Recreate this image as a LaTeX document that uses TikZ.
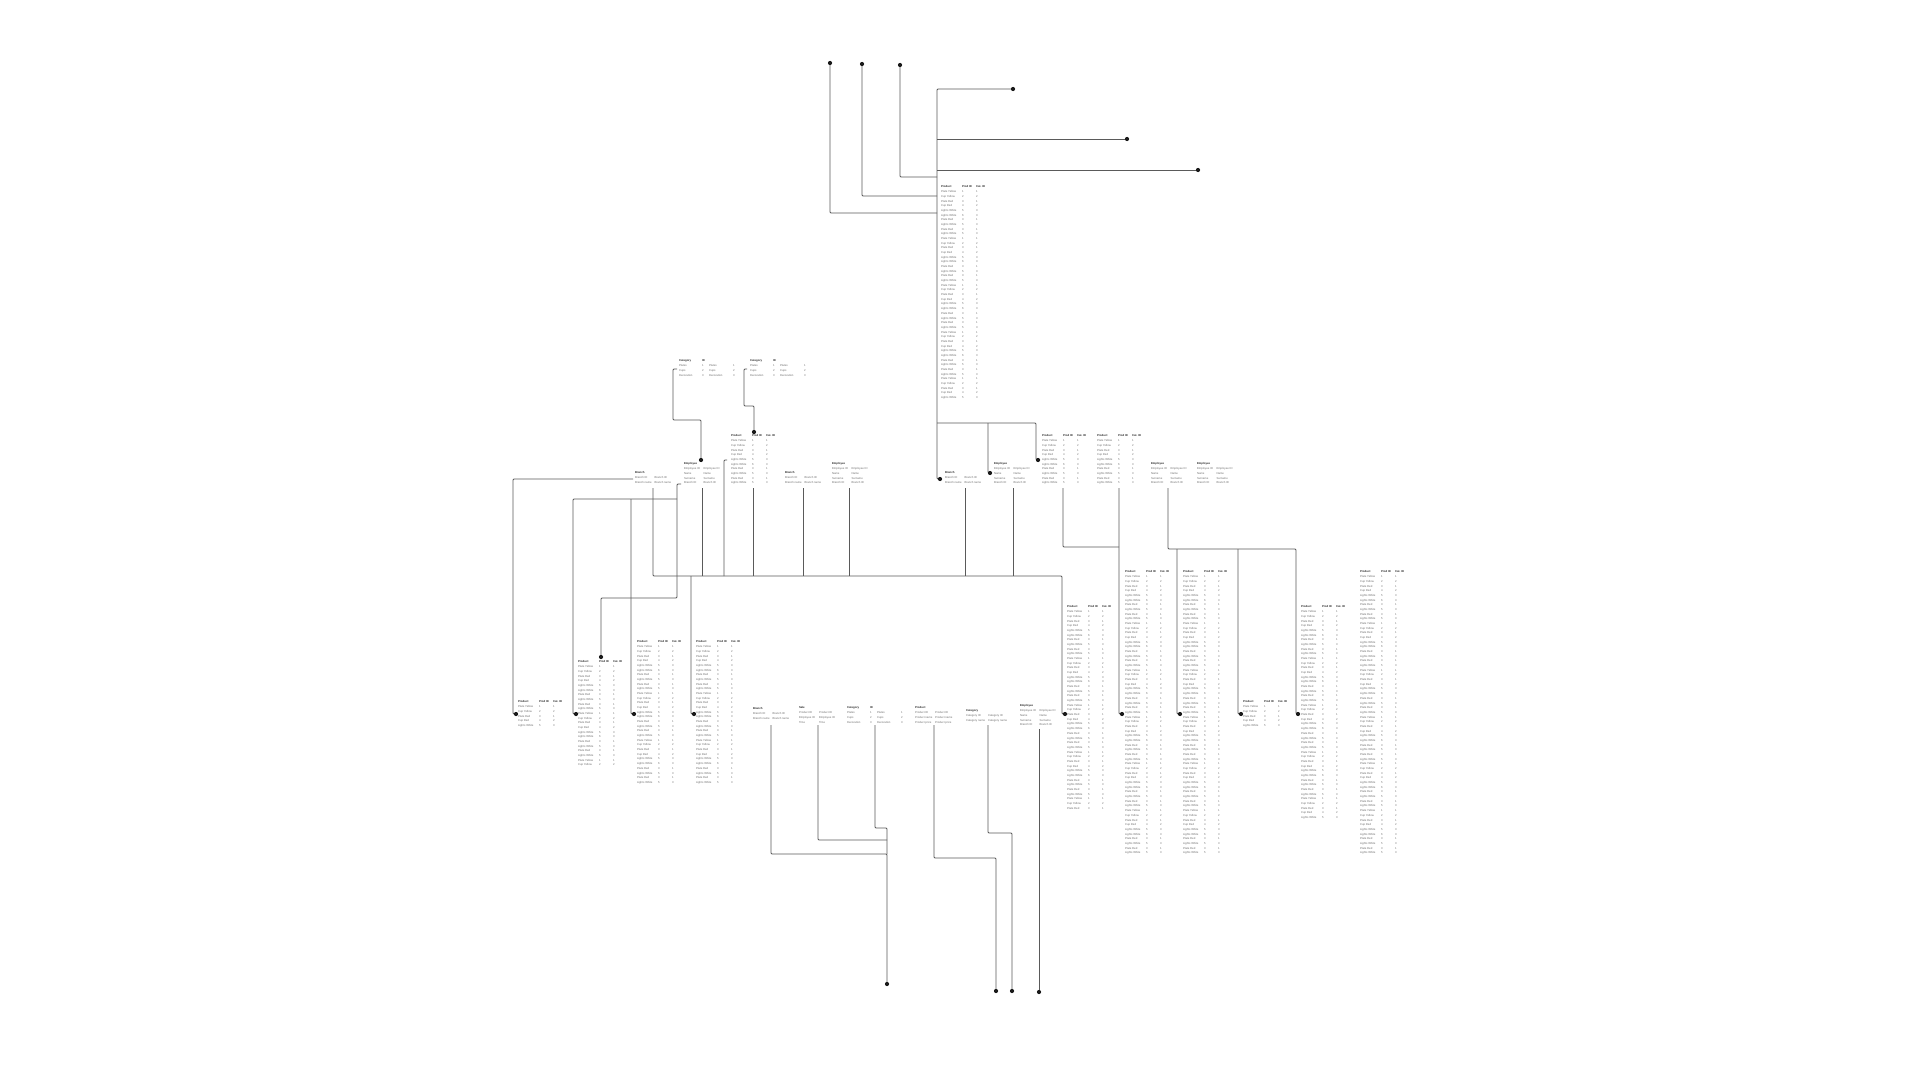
\documentclass[tikz,border=0pt]{standalone}
\usepackage{fontspec}
\setmainfont{Liberation Sans}
\usepackage{array}
\definecolor{linec}{HTML}{5A5A5A}
\definecolor{headc}{HTML}{2A2A2A}
\definecolor{bodyc}{HTML}{707070}
\definecolor{dotc}{HTML}{1A1A1A}
\newcommand\tblfont{\fontsize{2.8}{4.68}\selectfont}
\newcommand\hd[1]{\textcolor{headc}{\textbf{#1}}}
\newcommand\pA{Plate Yellow&1&1\\}
\newcommand\pB{Cup Yellow&2&2\\}
\newcommand\pC{Plate Red&3&1\\}
\newcommand\pD{Cup Red&4&2\\}
\newcommand\pE{Lights White&5&3\\}
\newcommand\pF{Lights White&6&3\\}
\newcommand\rfive{\pA\pB\pC\pD\pE}
\newcommand\rten{\pA\pB\pC\pD\pE\pF\pC\pE\pC\pE}
\newcommand\prodhd{\hd{Product}&\hd{Prod ID}&\hd{Cat. ID}\\}
\tikzset{
 tbl/.style={anchor=north west, inner sep=0pt, outer sep=0pt, font=\tblfont, text=bodyc},
 conn/.style={draw=linec, line width=0.8pt, rounded corners=1pt},
 dot/.style={circle, fill=dotc, inner sep=0pt, minimum size=4.2pt},
}
\newcommand\ptable[4]{\node[tbl] (#1) at (#2,#3-2.3) {\begin{tabular}{@{}p{21pt}@{}p{14pt}@{}l@{}}\prodhd#4\end{tabular}};}
\newcommand\etable[3]{\node[tbl] (#1) at (#2,#3-2.3) {\begin{tabular}{@{}p{19.5pt}@{}l@{}}\hd{Employee}&\\Employee ID&Employee ID\\Name&Name\\Surname&Surname\\Branch ID&Branch ID\\\end{tabular}};}
\newcommand\btable[3]{\node[tbl] (#1) at (#2,#3-2.3) {\begin{tabular}{@{}p{19.5pt}@{}l@{}}\hd{Branch}&\\Branch ID&Branch ID\\Branch name&Branch name\\\end{tabular}};}
\newcommand\ctable[3]{\node[tbl] (#1) at (#2,#3-2.3) {\begin{tabular}{@{}p{23pt}@{}p{7pt}@{}p{24pt}@{}l@{}}\hd{Category}&\hd{ID}&&\\Plates&1&Plates&1\\Cups&2&Cups&2\\Decoration&3&Decoration&3\\\end{tabular}};}
\begin{document}
\begin{tikzpicture}[x=1pt,y=-1pt]
\useasboundingbox (0,0) rectangle (1921,1081);
\fill[white] (0,0) rectangle (1921,1081);
% ---------- dot coordinates ----------
\coordinate (cA) at (830,63);
\coordinate (cB) at (862,64);
\coordinate (cC) at (900,65);
\coordinate (c1) at (1013,89);
\coordinate (c2) at (1127,139);
\coordinate (c3) at (1198,170);
\coordinate (cT9) at (940,479);
\coordinate (cT11) at (1038,460);
\coordinate (cT10) at (990,473);
\coordinate (cT5) at (701,460);
\coordinate (cT4) at (754,432);
\coordinate (cL1) at (516,714);
\coordinate (cL2a) at (576,714);
\coordinate (cL2b) at (601,657);
\coordinate (cL3) at (634,714);
\coordinate (cL4) at (694,714);
\coordinate (cR1) at (1065,714);
\coordinate (cR2) at (1122,714);
\coordinate (cR3) at (1180,714);
\coordinate (cR4) at (1241,714);
\coordinate (cR5) at (1298,714);
\coordinate (cB1) at (887,984);
\coordinate (cB2) at (996,991);
\coordinate (cB3) at (1012,991);
\coordinate (cB4) at (1039,992);
% ---------- connectors ----------
\draw[conn] (cA) -- (830,213) -- (937,213);
\draw[conn] (cB) -- (862,196) -- (937,196);
\draw[conn] (cC) -- (900,177) -- (937,177);
\draw[conn] (c1) -- (937,89) -- (937,479) -- (cT9);
\draw[conn] (937,139) -- (c2);
\draw[conn] (937,170) -- (c3);
\draw[conn] (937,423) -- (1036,423) -- (1036,460) -- (cT11);
\draw[conn] (988,423) -- (988,473) -- (cT10);
\draw[conn] (677,369) -- (673,369) -- (673,420) -- (701,420) -- (cT5);
\draw[conn] (747,369) -- (744,369) -- (744,406) -- (754,406) -- (cT4);
\draw[conn] (633,479) -- (513,479) -- (513,714) -- (cL1);
\draw[conn] (681,484) -- (677,484) -- (677,598) -- (601,598) -- (cL2b);
\draw[conn] (677,499) -- (573,499) -- (573,714) -- (cL2a);
\draw[conn] (631,499) -- (631,714) -- (cL3);
\draw[conn] (653,488) -- (653,576) -- (1062,576) -- (1062,714) -- (cR1);
\foreach \x in {702,753,803,849,965,1013} \draw[conn] (\x,488) -- (\x,576);
\draw[conn] (727,460) -- (724,460) -- (724,576);
\draw[conn] (691,576) -- (691,714) -- (cL4);
\draw[conn] (1063,488) -- (1063,547) -- (1119,547);
\draw[conn] (1119,488) -- (1119,714) -- (cR2);
\draw[conn] (1168,488) -- (1168,549) -- (1296,549) -- (1296,714) -- (cR5);
\draw[conn] (1177,549) -- (1177,714) -- (cR3);
\draw[conn] (1238,549) -- (1238,714) -- (cR4);
\draw[conn] (771,725) -- (771,854) -- (887,854) -- (cB1);
\draw[conn] (818,725) -- (818,840) -- (887,840);
\draw[conn] (875,725) -- (875,828) -- (887,828) -- (887,854);
\draw[conn] (934,725) -- (934,858) -- (996,858) -- (cB2);
\draw[conn] (988,725) -- (988,833) -- (1012,833) -- (cB3);
\draw[conn] (1039,729) -- (cB4);
% ---------- dots ----------
\foreach \c in {cA,cB,cC,c1,c2,c3,cT9,cT11,cT10,cT5,cT4,cL1,cL2a,cL2b,cL3,cL4,cR1,cR2,cR3,cR4,cR5,cB1,cB2,cB3,cB4}
  \node[dot] (d\c) at (\c) {};
% ---------- tables ----------
\ptable{P1}{941}{187}{\rten\rten\rten\rten\rfive}
\ptable{P4}{731}{436}{\rten}
\ptable{P11}{1042}{436}{\rten}
\ptable{P12}{1097}{436}{\rten}
\ptable{PL1}{518}{702}{\rfive}
\ptable{PL2}{578}{662}{\rten\rten\pA\pB}
\ptable{PL3}{637}{642}{\rten\rten\rten}
\ptable{PL4}{696}{642}{\rten\rten\rten}
\ptable{PR1}{1067}{607}{\rten\rten\rten\rten\pA\pB\pC}
\ptable{PR2}{1125}{572}{\rten\rten\rten\rten\rten\rten}
\ptable{PR3}{1183}{572}{\rten\rten\rten\rten\rten\rten}
\ptable{PR4}{1243}{702}{\rfive}
\ptable{PR5}{1301}{607}{\rten\rten\rten\rten\rfive}
\ptable{PR6}{1360}{572}{\rten\rten\rten\rten\rten\rten}
\etable{T5}{684}{464}
\etable{T8}{832}{464}
\etable{T10}{994}{464}
\etable{T13}{1151}{464}
\etable{T14}{1197}{464}
\etable{EL}{1020}{706}
\btable{T6}{635}{473}
\btable{T7}{785}{473}
\btable{T9}{945}{473}
\btable{BL}{753}{709}
\ctable{T2}{679}{361}
\ctable{T3}{750}{361}
\ctable{CL}{847}{708}
\node[tbl] (SL) at (799,708-2.3) {\begin{tabular}{@{}p{20pt}@{}l@{}}\hd{Sale}&\\Product ID&Product ID\\Employee ID&Employee ID\\Time&Time\\\end{tabular}};
\node[tbl] (PS) at (915,708-2.3) {\begin{tabular}{@{}p{20pt}@{}l@{}}\hd{Product}&\\Product ID&Product ID\\Product name&Product name\\Product price&Product price\\\end{tabular}};
\node[tbl] (CS) at (966,711-2.3) {\begin{tabular}{@{}p{22pt}@{}l@{}}\hd{Category}&\\Category ID&Category ID\\Category name&Category name\\\end{tabular}};
\end{tikzpicture}
\end{document}
